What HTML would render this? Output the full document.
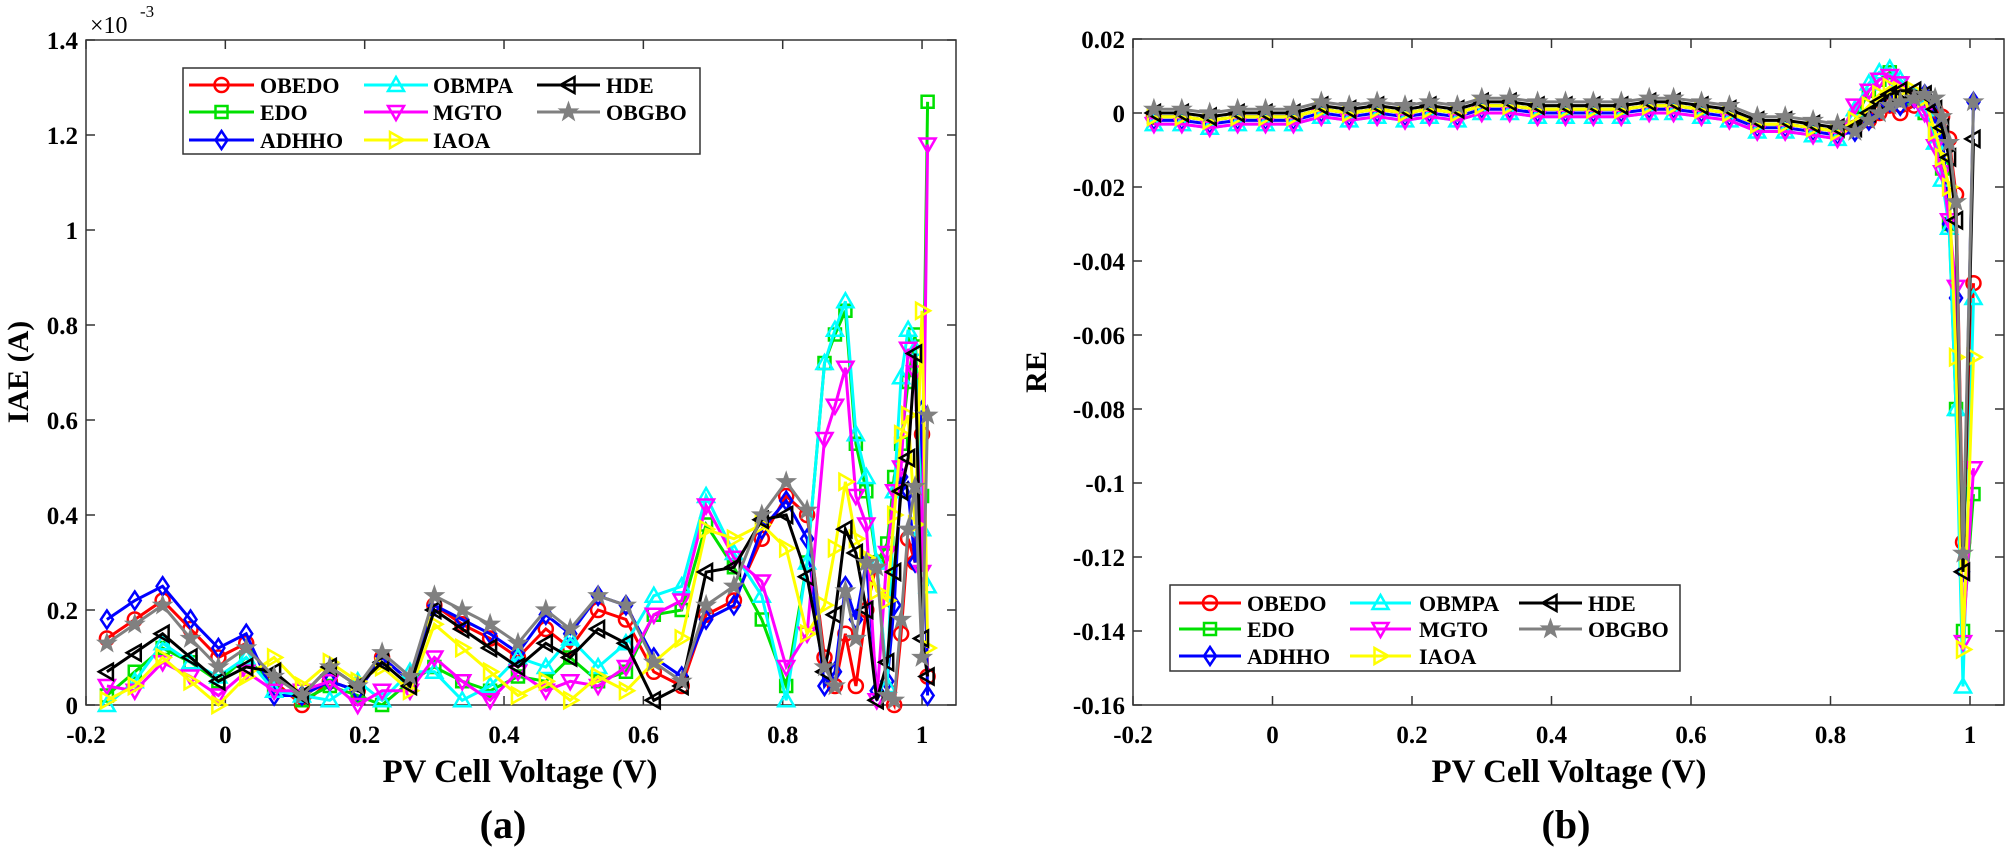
<!DOCTYPE html>
<html><head><meta charset="utf-8"><style>
html,body{margin:0;padding:0;background:#fff;}
svg{display:block;}
text{font-family:"Liberation Serif",serif;font-weight:bold;fill:#000;}
</style></head><body>
<svg id="s" width="2007" height="853" xmlns="http://www.w3.org/2000/svg"></svg>
<script>
const S=document.getElementById('s');let out='';
const cols=['#ff0000','#00e000','#0000ff','#00ffff','#ff00ff','#ffff00','#000000','#808080'];
const names=['OBEDO','EDO','ADHHO','OBMPA','MGTO','IAOA','HDE','OBGBO'];
function mk(t,x,y,c){const r=7;
 switch(t){
 case 0:return `<circle cx="${x}" cy="${y}" r="${r}" fill="none" stroke="${c}" stroke-width="2.5"/>`;
 case 1:return `<rect x="${x-r+1}" y="${y-r+1}" width="${2*r-2}" height="${2*r-2}" fill="none" stroke="${c}" stroke-width="2.5"/>`;
 case 2:return `<polygon points="${x},${y-r-2} ${x+r-1},${y} ${x},${y+r+2} ${x-r+1},${y}" fill="none" stroke="${c}" stroke-width="2.5"/>`;
 case 3:return `<polygon points="${x},${y-r-1} ${x+r+1},${y+r-1} ${x-r-1},${y+r-1}" fill="none" stroke="${c}" stroke-width="2.5"/>`;
 case 4:return `<polygon points="${x},${y+r+1} ${x+r+1},${y-r+1} ${x-r-1},${y-r+1}" fill="none" stroke="${c}" stroke-width="2.5"/>`;
 case 5:return `<polygon points="${x+r+1},${y} ${x-r+1},${y-r-1} ${x-r+1},${y+r+1}" fill="none" stroke="${c}" stroke-width="2.5"/>`;
 case 6:return `<polygon points="${x-r-1},${y} ${x+r-1},${y-r-1} ${x+r-1},${y+r+1}" fill="none" stroke="${c}" stroke-width="2.5"/>`;
 case 7:{let p=[];for(let i=0;i<10;i++){const a=-Math.PI/2+i*Math.PI/5,rr=i%2?4:10;p.push((x+rr*Math.cos(a)).toFixed(1)+','+(y+rr*Math.sin(a)).toFixed(1));}
   return `<polygon points="${p.join(' ')}" fill="${c}" stroke="${c}" stroke-width="1"/>`;}
 }}
function series(xs,ys,fx,fy){for(let k=0;k<8;k++){const pts=xs.map((x,i)=>[fx(x),fy(ys[k][i])]);
 out+=`<polyline points="${pts.map(p=>p[0].toFixed(1)+','+p[1].toFixed(1)).join(' ')}" fill="none" stroke="${cols[k]}" stroke-width="3"/>`;
 pts.forEach(p=>out+=mk(k,p[0],p[1],cols[k]));}}
function axes(L,R,T,B,xt,fx,yt,fy,ylab){
 out+=`<rect x="${L}" y="${T}" width="${R-L}" height="${B-T}" fill="none" stroke="#333" stroke-width="1.5"/>`;
 xt.forEach(v=>{const x=fx(v);out+=`<line x1="${x}" y1="${B}" x2="${x}" y2="${B-9}" stroke="#333" stroke-width="1.5"/><line x1="${x}" y1="${T}" x2="${x}" y2="${T+9}" stroke="#333" stroke-width="1.5"/><text x="${x}" y="${B+38}" font-size="25" text-anchor="middle">${v==0?'0':(v==1?'1':String(v))}</text>`;});
 yt.forEach(v=>{const y=fy(v);out+=`<line x1="${L}" y1="${y}" x2="${L+9}" y2="${y}" stroke="#333" stroke-width="1.5"/><line x1="${R}" y1="${y}" x2="${R-9}" y2="${y}" stroke="#333" stroke-width="1.5"/><text x="${L-8}" y="${y+9}" font-size="25" text-anchor="end">${ylab(v)}</text>`;});
}
function legend(bx,by,bw,bh,rows,lc,tc){
 out+=`<rect x="${bx}" y="${by}" width="${bw}" height="${bh}" fill="#fff" stroke="#333" stroke-width="1.5"/>`;
 for(let k=0;k<8;k++){const c=Math.floor(k/3),r=k%3;const y=rows[r];const x1=lc[c][0],x2=lc[c][1];
  out+=`<line x1="${x1}" y1="${y}" x2="${x2}" y2="${y}" stroke="${cols[k]}" stroke-width="3"/>`+mk(k,(x1+x2)/2,y,cols[k])+`<text x="${tc[c]}" y="${y+8}" font-size="22">${names[k]}</text>`;}
}
const X=[-0.17,-0.13,-0.09,-0.05,-0.01,0.03,0.07,0.11,0.15,0.19,0.225,0.265,0.30,0.34,0.38,0.42,0.46,0.495,0.535,0.575,0.615,0.655,0.69,0.73,0.77,0.805,0.835,0.86,0.875,0.89,0.905,0.92,0.935,0.95,0.96,0.97,0.98,0.99,1.0,1.008];
const Y=[
[.14,.18,.22,.16,.10,.13,.05,.00,.05,.03,.10,.05,.21,.17,.14,.10,.16,.12,.20,.18,.07,.04,.19,.22,.35,.44,.40,.10,.04,.15,.04,.20,.30,.03,.00,.15,.35,.30,.57,.06],
[.02,.07,.12,.09,.05,.10,.04,.01,.04,.02,.00,.05,.08,.05,.03,.06,.05,.10,.05,.07,.19,.20,.38,.29,.18,.04,.30,.72,.78,.83,.55,.45,.30,.34,.48,.55,.68,.78,.44,1.27],
[.18,.22,.25,.18,.12,.15,.02,.02,.05,.03,.10,.05,.21,.18,.15,.11,.19,.15,.23,.21,.10,.06,.18,.21,.37,.43,.35,.04,.07,.25,.18,.30,.03,.05,.21,.48,.45,.30,.62,.02],
[.00,.05,.13,.09,.06,.10,.03,.02,.01,.05,.01,.07,.07,.01,.04,.10,.08,.14,.08,.13,.23,.25,.44,.32,.23,.01,.30,.72,.79,.85,.57,.48,.30,.04,.45,.69,.79,.75,.37,.25],
[.04,.03,.09,.06,.02,.07,.03,.03,.05,.00,.03,.03,.10,.05,.01,.07,.03,.05,.04,.08,.19,.22,.42,.31,.26,.08,.15,.56,.63,.71,.44,.38,.01,.32,.45,.50,.75,.70,.28,1.18],
[.01,.04,.10,.05,.00,.06,.10,.04,.09,.05,.08,.03,.17,.12,.07,.02,.05,.01,.06,.03,.09,.14,.37,.35,.38,.33,.15,.21,.33,.47,.35,.31,.24,.22,.40,.57,.61,.38,.83,.12],
[.07,.11,.15,.10,.05,.08,.07,.02,.08,.04,.09,.04,.20,.16,.12,.08,.13,.10,.16,.13,.01,.04,.28,.29,.39,.40,.27,.07,.19,.37,.32,.20,.01,.09,.28,.45,.52,.74,.14,.06],
[.13,.17,.21,.14,.08,.12,.06,.02,.08,.04,.11,.06,.23,.20,.17,.13,.20,.16,.23,.21,.09,.05,.21,.25,.40,.47,.41,.08,.04,.24,.14,.30,.29,.02,.01,.18,.37,.46,.10,.61]];
const fx1=v=>86+(v+0.2)*696.7, fy1=v=>705-v*475;
axes(86,956,40,705,[-0.2,0,0.2,0.4,0.6,0.8,1],fx1,[0,0.2,0.4,0.6,0.8,1,1.2,1.4],fy1,v=>v==0?'0':(v==1?'1':String(+v.toFixed(1))));
series(X,Y,fx1,fy1);
legend(183,68,517,86,[85,112,140],[[189,254],[364,428],[537,600]],[260,433,606]);
out+=`<text x="90" y="33" font-size="24" style="font-weight:normal">×10</text><text x="140" y="17" font-size="17" style="font-weight:normal">-3</text>`;
out+=`<text transform="translate(28,372) rotate(-90)" font-size="30" text-anchor="middle">IAE (A)</text>`;
out+=`<text x="520" y="782" font-size="33" text-anchor="middle" textLength="275" lengthAdjust="spacingAndGlyphs">PV Cell Voltage (V)</text>`;
out+=`<text x="503" y="838" font-size="40" text-anchor="middle">(a)</text>`;
const XR=[-0.17,-0.13,-0.09,-0.05,-0.01,0.03,0.07,0.11,0.15,0.19,0.225,0.265,0.30,0.34,0.38,0.42,0.46,0.50,0.54,0.575,0.615,0.655,0.695,0.735,0.775,0.81,0.835,0.855,0.87,0.885,0.90,0.92,0.935,0.95,0.96,0.97,0.98,0.99,1.005];
const base=[-0.001,-0.001,-0.002,-0.001,-0.001,-0.001,0.001,0,0.001,0,0.001,0,0.002,0.002,0.001,0.001,0.001,0.001,0.002,0.002,0.001,0,-0.003,-0.003,-0.004,-0.005];
const offs=[0,0,-0.001,-0.002,-0.002,0,0.001,0.002];
const tails=[
[-0.004,-0.002,0,0.002,0,0.002,0.004,0.001,-0.001,-0.007,-0.022,-0.116,-0.046],
[-0.002,0.006,0.009,0.011,0.008,0.004,0,-0.006,-0.015,-0.03,-0.08,-0.14,-0.103],
[-0.005,-0.002,0.001,0.003,0.002,0.004,0.005,0,-0.005,-0.03,-0.05,-0.124,0.003],
[0.001,0.008,0.011,0.012,0.009,0.005,0.001,-0.008,-0.018,-0.031,-0.08,-0.155,-0.05],
[0.002,0.006,0.009,0.01,0.008,0.004,0,-0.009,-0.016,-0.029,-0.047,-0.143,-0.096],
[-0.002,0.002,0.005,0.007,0.006,0.006,0.004,-0.005,-0.012,-0.02,-0.066,-0.145,-0.066],
[-0.004,0,0.003,0.005,0.006,0.006,0.005,0.001,-0.004,-0.012,-0.029,-0.124,-0.007],
[-0.005,-0.002,0,0.002,0.003,0.004,0.005,0.004,-0.001,-0.008,-0.024,-0.119,0.003]];
const YR=tails.map((t,k)=>base.map(b=>b+offs[k]).concat(t));
const fx2=v=>1133+(v+0.2)*697.5, fy2=v=>113-v*3700;
axes(1133,2004,39,705,[-0.2,0,0.2,0.4,0.6,0.8,1],fx2,[0.02,0,-0.02,-0.04,-0.06,-0.08,-0.1,-0.12,-0.14,-0.16],fy2,v=>Math.abs(v)<1e-9?'0':String(+v.toFixed(2)));
series(XR,YR,fx2,fy2);
legend(1170,585,510,86,[603,629,656],[[1179,1241],[1350,1411],[1519,1582]],[1247,1419,1588]);
out+=`<text transform="translate(1046,372) rotate(-90)" font-size="30" text-anchor="middle">RE</text>`;
out+=`<text x="1569" y="782" font-size="33" text-anchor="middle" textLength="275" lengthAdjust="spacingAndGlyphs">PV Cell Voltage (V)</text>`;
out+=`<text x="1566" y="838" font-size="40" text-anchor="middle">(b)</text>`;
S.innerHTML=out;
</script>
</body></html>
